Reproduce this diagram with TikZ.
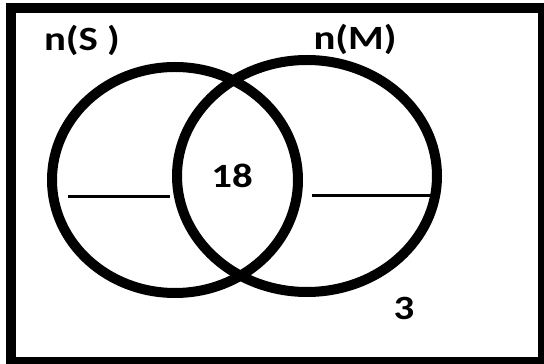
\documentclass[tikz,border=0pt]{standalone}
\usepackage{fontspec}
\setmainfont{Carlito}
\newfontfamily\vennfont[FakeStretch=1.2]{Carlito}
\tikzset{
  setline/.style={line width=10pt},
  blankline/.style={line width=3pt},
  setlabel/.style={anchor=base, inner sep=0pt, font=\vennfont\bfseries\fontsize{34}{34}\selectfont}
}
\begin{document}
\begin{tikzpicture}[x=1pt, y=1pt]
    \useasboundingbox (0,0) rectangle (544,364);
    \clip (0,0) rectangle (544,364);
    % Universal set
    \draw[setline] (10.5,355.5) rectangle (543,2);
    % Sets S and M
    \draw[setline] (175,184) ellipse [x radius=123, y radius=113];
    \draw[setline] (307,188) ellipse [x radius=130, y radius=116];
    % Blanks
    \draw[blankline] (68,167) -- (170,167);
    \draw[blankline] (312,168) -- (432,168);
    % Labels
    \node[setlabel] (nS) at (82,313) {n(S )};
    \node[setlabel] (nM) at (355,314) {n(M)};
    \node[setlabel] (both) at (232,176) {18};
    \node[setlabel] (none) at (404,44) {3};
\end{tikzpicture}
\end{document}
